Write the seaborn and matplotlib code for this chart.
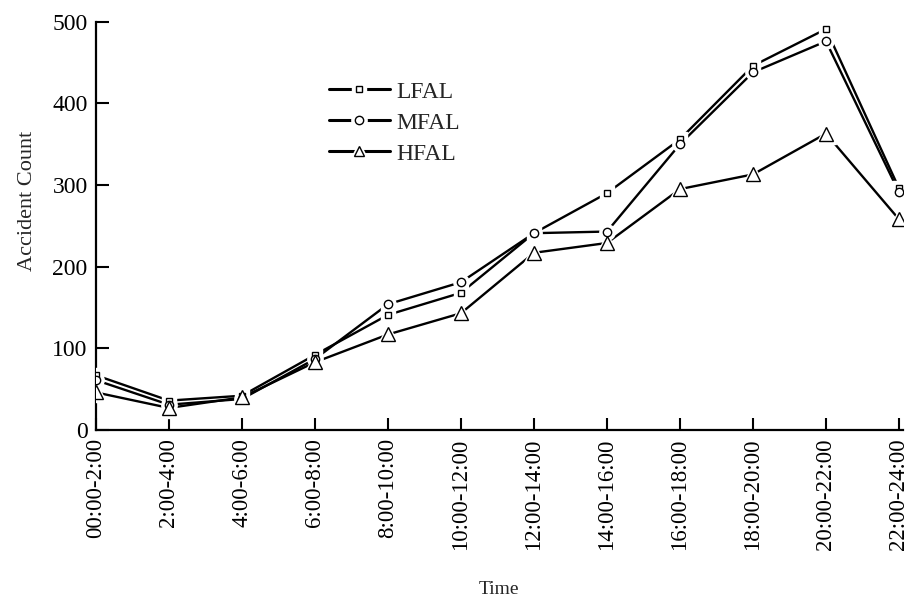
import pandas as pd
import numpy as np
import seaborn as sns
import matplotlib.pyplot as plt
from matplotlib.lines import Line2D
from matplotlib.legend_handler import HandlerTuple

###########
# Data
time_slots = ["00:00-2:00", "2:00-4:00", "4:00-6:00", "6:00-8:00", "8:00-10:00", "10:00-12:00",
              "12:00-14:00", "14:00-16:00", "16:00-18:00", "18:00-20:00", "20:00-22:00", "22:00-24:00"]
lfal = [67, 36, 42, 92, 141, 168, 241, 290, 356, 446, 491, 296]
mfal = [61, 31, 38, 87, 154, 181, 241, 243, 350, 438, 476, 291]
hfal = [46, 27, 40, 83, 117, 143, 217, 229, 295, 313, 363, 258]
series_names = ["LFAL", "MFAL", "HFAL"]

df = pd.DataFrame({"Time": time_slots, "LFAL": lfal, "MFAL": mfal, "HFAL": hfal})
df["pos"] = np.arange(len(time_slots))
long_df = df.melt(id_vars=["Time", "pos"], value_vars=series_names, var_name="Level", value_name="Accident Count")

##############################################################################
# Plot
##############################################################################
sns.set_theme(style="ticks")
plt.rcParams["font.family"] = ["Liberation Serif", "DejaVu Serif"]

markers = {"LFAL": "s", "MFAL": "o", "HFAL": "^"}
sizes = {"LFAL": 5, "MFAL": 6, "HFAL": 9.5}

fig = plt.figure(figsize=(9.09, 6.07), dpi=100)
ax = fig.add_axes([0.1056, 0.2916, 0.8874, 0.6727])

handles = []
for name in series_names:
    sub = long_df[long_df["Level"] == name]
    sns.lineplot(data=sub, x="pos", y="Accident Count", color="black", linewidth=1.7, ax=ax, zorder=2)
    # white halo under each marker gives the small gap between line and marker
    ax.plot(sub["pos"], sub["Accident Count"], linestyle="none", marker=markers[name],
            markersize=sizes[name] + 5, markerfacecolor="white", markeredgecolor="white", zorder=3)
    ax.plot(sub["pos"], sub["Accident Count"], linestyle="none", marker=markers[name],
            markersize=sizes[name], markerfacecolor="white", markeredgecolor="black",
            markeredgewidth=1.0, zorder=4)
    leg_size = min(sizes[name], 7.5)
    h = (Line2D([], [], color="black", linewidth=2.2),
         Line2D([], [], linestyle="none", marker=markers[name], markersize=leg_size + 5,
                markerfacecolor="white", markeredgecolor="white"),
         Line2D([], [], linestyle="none", marker=markers[name], markersize=leg_size,
                markerfacecolor="white", markeredgecolor="black", markeredgewidth=1.0))
    handles.append(h)

ax.legend(handles, series_names, handler_map={tuple: HandlerTuple(ndivide=1, pad=0)},
          loc="center left", bbox_to_anchor=(0.262, 0.752), frameon=False, fontsize=17,
          handlelength=2.6, handletextpad=0.25, labelspacing=0.4)

ax.set_xlim(0, 11.05)
ax.set_ylim(0, 500)
ax.set_xticks(df["pos"])
ax.set_xticklabels(time_slots, rotation=90)
ax.set_yticks([0, 100, 200, 300, 400, 500])
ax.tick_params(axis="both", direction="in", length=9, width=1.5, colors="black", labelsize=17, pad=6)
ax.tick_params(axis="x", labelsize=16.5)
ax.set_xlabel("Time", fontsize=14, labelpad=22)
ax.set_ylabel("Accident Count", fontsize=16)
ax.yaxis.set_label_coords(-0.073, 0.561)
sns.despine(ax=ax)
for s in ["left", "bottom"]:
    ax.spines[s].set_linewidth(1.6)
    ax.spines[s].set_color("black")

fig.savefig("out.png", dpi=100)
